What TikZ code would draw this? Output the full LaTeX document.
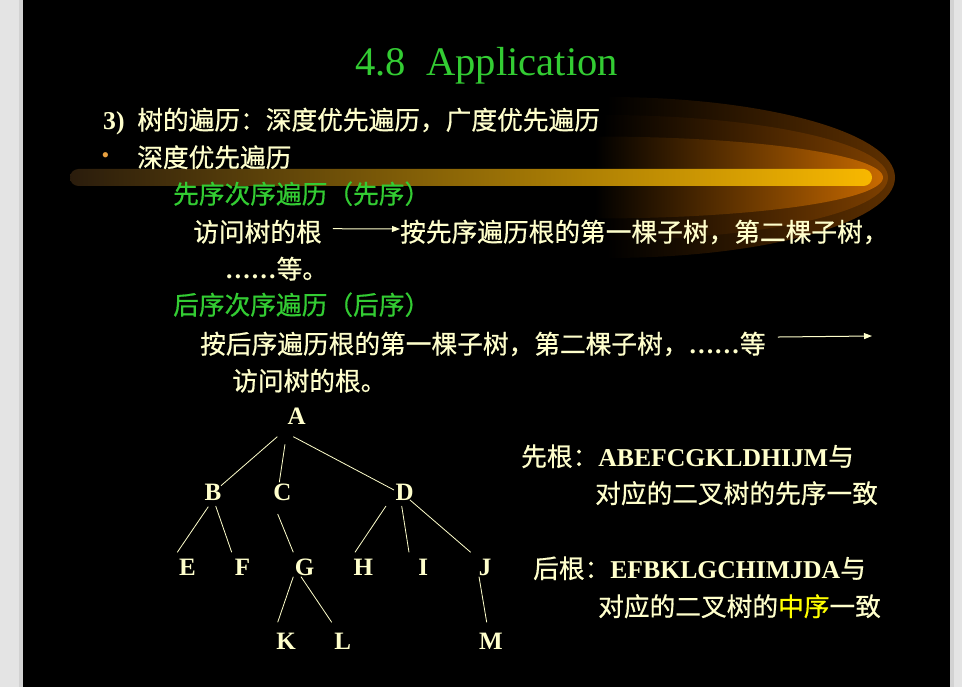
\documentclass[tikz,border=0pt]{standalone}
\usepackage{fontspec}
\setmainfont{Liberation Serif}
\newfontfamily\cjk[FakeBold=0.6]{Noto Sans CJK SC}
\usetikzlibrary{arrows.meta}

\definecolor{cream}{HTML}{FFFFCC}
\definecolor{slidegreen}{HTML}{33CC33}
\definecolor{hilite}{HTML}{FFFF00}
\definecolor{bulletorange}{HTML}{E8A040}
\definecolor{margingray}{HTML}{E4E4E4}
\definecolor{edgegray}{HTML}{D2D2D2}
\definecolor{ovalA}{HTML}{5E3000}
\definecolor{ovalB}{HTML}{7E4000}
\definecolor{ovalC}{HTML}{C86A00}
\definecolor{barleft}{HTML}{2A1C0C}
\definecolor{barmid}{HTML}{A67C00}
\definecolor{barright}{HTML}{F8B800}

\newcommand\latb[1]{{\rmfamily\bfseries #1}}

\tikzset{
  % right half of an ellipse: centre x, centre y, x radius, y radius
  halfoval/.style n args={4}{insert path={
    (#1,{#2-#4}) .. controls ({#1+0.5523*#3},{#2-#4}) and ({#1+#3},{#2-0.5523*#4}) .. ({#1+#3},#2)
    .. controls ({#1+#3},{#2+0.5523*#4}) and ({#1+0.5523*#3},{#2+#4}) .. (#1,{#2+#4}) -- cycle}},
  txt/.style={text=cream, inner sep=0pt, anchor=base west,
    font=\cjk\fontsize{25.7}{30}\selectfont},
  greentxt/.style={txt, text=slidegreen},
  letter/.style={text=cream, inner sep=0pt,
    font=\rmfamily\bfseries\fontsize{25}{30}\selectfont,
    text height=16.5pt, text depth=0pt},
  edge/.style={draw=cream, line width=0.8pt},
  arr/.style={draw=cream, line width=1pt, -{Triangle[length=8pt,width=6pt]}},
}

\begin{document}
\begin{tikzpicture}[x=1pt,y=-1pt]
\useasboundingbox (0,0) rectangle (962,687);

% slide background and side margins
\fill[margingray] (0,0) rectangle (962,687);
\fill[edgegray] (19,0) rectangle (23,687);
\fill[edgegray] (950,0) rectangle (954,687);
\fill[black] (23,0) rectangle (950,687);

% decorative swoosh behind the bullet list
\shade[halfoval={607}{177.5}{288}{80.5}, left color=black, right color=ovalA];
\shade[halfoval={603}{177.5}{285}{62.5}, left color=black, right color=ovalB];
\shade[halfoval={595}{177.5}{288}{41}, left color=black, right color=ovalC];
\shade[left color=barleft, middle color=barmid, right color=barright,
  rounded corners=8.5pt] (70,169) rectangle (872,186);

% title
\node[font=\fontsize{40.6}{48}\selectfont, text=slidegreen, anchor=base, inner sep=0pt]
  (title) at (486.5,76) {4.8\ \ Application};

% text body
\node[txt] (l1) at (103,129.5) {\latb{3)}\hspace{12.7pt}树的遍历：深度优先遍历，广度优先遍历};
\node[text=bulletorange, font=\rmfamily\fontsize{22}{22}\selectfont, inner sep=0pt, anchor=base]
  (bullet) at (105.5,163) {\textbullet};
\node[txt] (l2) at (137,167) {深度优先遍历};
\node[greentxt] (l3) at (173,203.5) {先序次序遍历（先序）};
\node[txt] (l4a) at (193,241.5) {访问树的根};
\node[txt] (l4b) at (400,241.5) {按先序遍历根的第一棵子树，第二棵子树，};
\node[txt] (l5) at (225,278.5) {\latb{……}等。};
\node[greentxt] (l6) at (173,314.5) {后序次序遍历（后序）};
\node[txt] (l7) at (200,353.5) {按后序遍历根的第一棵子树，第二棵子树，\latb{……}等};
\node[txt] (l8) at (232,390.5) {访问树的根。};
\coordinate (l7end) at (872,336);

\draw[arr] ([xshift=11pt,yshift=3pt]l4a.east) -- ([yshift=3pt]l4b.west);
\draw[arr] ([xshift=12pt,yshift=7pt]l7.east) -- (l7end);

% traversal results
\node[txt] (r1) at (521,466) {先根：\latb{ABEFCGKLDHIJM}与};
\node[txt] (r2) at (595,503) {对应的二叉树的先序一致};
\node[txt] (r3) at (533,578) {后根：\latb{EFBKLGCHIMJDA}与};
\node[txt] (r4) at (598,616) {对应的二叉树的\textcolor{hilite}{中序}一致};

% the tree
\node[letter] (A) at (296.7,416.7) {A};
\node[letter] (B) at (213,492.7) {B};
\node[letter] (C) at (282.3,492.7) {C};
\node[letter] (D) at (404.7,492.7) {D};
\node[letter] (E) at (187.5,567) {E};
\node[letter] (F) at (242.5,567) {F};
\node[letter] (G) at (304.5,567) {G};
\node[letter] (H) at (363.3,567) {H};
\node[letter] (I) at (423.3,567) {I};
\node[letter] (J) at (485,567) {J};
\node[letter] (K) at (286.2,641.2) {K};
\node[letter] (L) at (342.8,641.2) {L};
\node[letter] (M) at (491,641.2) {M};

\draw[edge] ([shift={(-19.4,20)}]A.center) -- ([shift={(8,-7)}]B.center);
\draw[edge] ([shift={(-11.7,27.6)}]A.center) -- ([shift={(-3,-10.4)}]C.center);
\draw[edge] ([shift={(-3.4,20)}]A.center) -- ([shift={(-10.7,-2.7)}]D.center);
\draw[edge] ([shift={(-4.7,14)}]B.center) -- ([shift={(-10.2,-14.7)}]E.center);
\draw[edge] ([shift={(2.7,13.3)}]B.center) -- ([shift={(-10.8,-14.7)}]F.center);
\draw[edge] ([shift={(-4.6,21.3)}]C.center) -- ([shift={(-11.2,-14.7)}]G.center);
\draw[edge] ([shift={(-18.7,13.3)}]D.center) -- ([shift={(-8.3,-14.7)}]H.center);
\draw[edge] ([shift={(-3,13.3)}]D.center) -- ([shift={(-14.3,-14.7)}]I.center);
\draw[edge] ([shift={(5.3,7.3)}]D.center) -- ([shift={(-14.3,-14.7)}]J.center);
\draw[edge] ([shift={(-11.2,9.7)}]G.center) -- ([shift={(-8.5,-18.9)}]K.center);
\draw[edge] ([shift={(-3.5,9.7)}]G.center) -- ([shift={(-11.1,-18.9)}]L.center);
\draw[edge] ([shift={(-6,9.7)}]J.center) -- ([shift={(-4.3,-18.9)}]M.center);
\end{tikzpicture}
\end{document}
